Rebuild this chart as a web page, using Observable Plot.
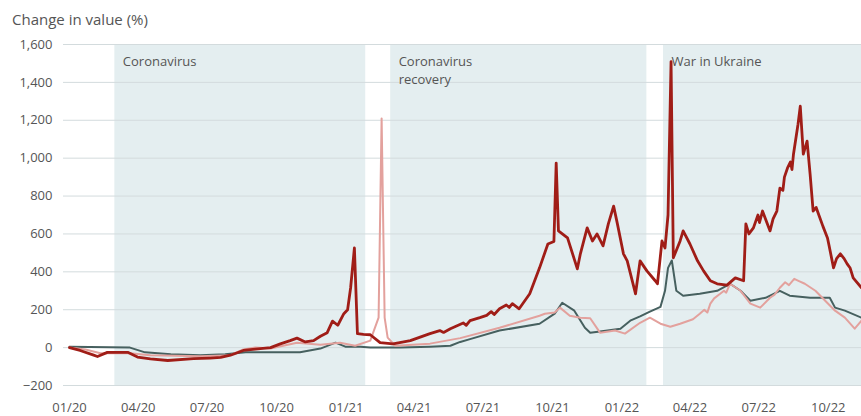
<!DOCTYPE html>
<html><head><meta charset="utf-8">
<script src="https://cdn.jsdelivr.net/npm/d3@7"></script>
<script src="https://cdn.jsdelivr.net/npm/@observablehq/plot@0.6"></script>
<style>
body{margin:0;background:#fff;font-family:"Open Sans",sans-serif}
#title{height:28px;box-sizing:border-box;padding:11px 0 0 12px;font-size:15px;line-height:16px;color:#555}
</style>
</head><body>
<div id="title">Change in value (%)</div>
<div id="chart"></div>
<script>
// Shaded periods
const regionLabels = ["Coronavirus", "Coronavirus\nrecovery", "War in Ukraine"];
const regionStarts = ["2020-03-01", "2021-03-01", "2022-02-25"];
const regionEnds   = ["2021-01-27", "2022-02-03", "2022-11-14"];

// Axis ticks
const yTicks = [-200, 0, 200, 400, 600, 800, 1000, 1200, 1400, 1600];
const xTickDates = ["2020-01-01","2020-04-01","2020-07-01","2020-10-01","2021-01-01","2021-04-01","2021-07-01","2021-10-01","2022-01-01","2022-04-01","2022-07-01","2022-10-01"];
const xDomain = ["2020-01-01", "2022-11-14"];

// Series (date, % change)
const series1 = [ // dark red
["2020-01-01",0],["2020-01-15",-15],["2020-02-02",-40],["2020-02-07",-47],["2020-02-20",-25],["2020-03-04",-25],["2020-03-18",-25],["2020-03-31",-50],["2020-04-17",-60],["2020-05-10",-68],["2020-06-13",-58],["2020-07-05",-55],["2020-07-19",-52],["2020-08-01",-40],["2020-08-18",-15],["2020-09-03",-8],["2020-09-23",0],["2020-10-06",20],["2020-10-19",37],["2020-10-28",50],["2020-11-08",30],["2020-11-19",37],["2020-11-28",60],["2020-12-07",79],["2020-12-14",140],["2020-12-21",118],["2020-12-29",179],["2021-01-03",200],["2021-01-07",316],["2021-01-12",526],["2021-01-16",74],["2021-01-24",70],["2021-02-02",68],["2021-02-15",26],["2021-03-04",20],["2021-03-27",37],["2021-04-22",74],["2021-05-05",90],["2021-05-10",80],["2021-05-19",100],["2021-06-05",130],["2021-06-09",118],["2021-06-14",142],["2021-06-27",158],["2021-07-06",170],["2021-07-12",190],["2021-07-16",175],["2021-07-23",205],["2021-08-01",225],["2021-08-05",212],["2021-08-09",232],["2021-08-18",205],["2021-09-01",284],["2021-09-14",421],["2021-09-25",547],["2021-10-03",560],["2021-10-06",974],["2021-10-09",616],["2021-10-21",579],["2021-11-03",416],["2021-11-07",495],["2021-11-16",632],["2021-11-23",563],["2021-11-29",600],["2021-12-07",537],["2021-12-14",653],["2021-12-21",747],["2021-12-26",653],["2022-01-03",495],["2022-01-08",458],["2022-01-19",284],["2022-01-25",458],["2022-02-03",405],["2022-02-14",353],["2022-02-17",337],["2022-02-23",563],["2022-02-27",526],["2022-03-03",700],["2022-03-07",1510],["2022-03-10",474],["2022-03-19",563],["2022-03-23",616],["2022-04-01",547],["2022-04-11",458],["2022-04-19",405],["2022-04-28",353],["2022-05-07",337],["2022-05-20",330],["2022-05-31",368],["2022-06-11",353],["2022-06-14",653],["2022-06-18",600],["2022-06-24",632],["2022-06-30",700],["2022-07-02",660],["2022-07-06",721],["2022-07-16",616],["2022-07-20",680],["2022-07-25",721],["2022-07-29",842],["2022-08-02",830],["2022-08-04",900],["2022-08-08",947],["2022-08-12",980],["2022-08-14",940],["2022-08-16",1021],["2022-08-22",1179],["2022-08-25",1274],["2022-08-29",1021],["2022-09-03",1090],["2022-09-07",916],["2022-09-11",721],["2022-09-15",740],["2022-09-20",684],["2022-09-24",640],["2022-09-30",579],["2022-10-02",540],["2022-10-08",421],["2022-10-12",470],["2022-10-17",495],["2022-10-22",470],["2022-10-26",442],["2022-10-30",420],["2022-11-03",368],["2022-11-14",316]
];
const series2 = [ // slate
["2020-01-01",5],["2020-03-21",0],["2020-04-10",-25],["2020-05-14",-35],["2020-06-22",-40],["2020-07-25",-35],["2020-08-21",-25],["2020-10-10",-25],["2020-11-01",-25],["2020-11-28",-5],["2020-12-18",26],["2020-12-31",5],["2021-01-20",5],["2021-02-02",0],["2021-03-14",0],["2021-04-22",5],["2021-05-19",10],["2021-06-01",30],["2021-06-14",45],["2021-07-23",90],["2021-09-14",126],["2021-10-04",179],["2021-10-14",237],["2021-10-30",195],["2021-11-13",105],["2021-11-20",79],["2021-12-03",85],["2021-12-30",100],["2022-01-12",142],["2022-01-25",165],["2022-02-07",190],["2022-02-21",215],["2022-02-27",300],["2022-03-03",421],["2022-03-08",460],["2022-03-14",300],["2022-03-23",274],["2022-04-14",284],["2022-05-07",300],["2022-05-24",337],["2022-06-07",300],["2022-06-20",247],["2022-07-10",263],["2022-07-29",300],["2022-08-11",274],["2022-09-07",263],["2022-10-03",263],["2022-10-10",211],["2022-10-23",195],["2022-11-14",158]
];
const series3 = [ // light pink
["2020-01-01",0],["2020-01-22",-10],["2020-02-11",-30],["2020-03-21",-30],["2020-04-17",-40],["2020-06-22",-45],["2020-08-01",-40],["2020-08-18",-10],["2020-09-03",0],["2020-09-23",-5],["2020-10-28",26],["2020-11-28",15],["2020-12-24",26],["2021-01-13",10],["2021-02-02",37],["2021-02-13",158],["2021-02-17",1210],["2021-02-21",158],["2021-02-25",53],["2021-03-07",10],["2021-04-22",21],["2021-06-01",50],["2021-07-23",105],["2021-09-14",168],["2021-09-21",179],["2021-10-04",185],["2021-10-11",211],["2021-10-24",168],["2021-11-07",158],["2021-11-20",155],["2021-12-03",79],["2021-12-23",90],["2022-01-05",74],["2022-01-25",131],["2022-02-07",158],["2022-02-21",126],["2022-03-06",110],["2022-03-19",126],["2022-04-05",150],["2022-04-14",179],["2022-04-20",200],["2022-04-24",185],["2022-04-28",232],["2022-05-03",260],["2022-05-11",284],["2022-05-16",300],["2022-05-19",290],["2022-05-24",337],["2022-06-07",300],["2022-06-20",232],["2022-07-03",211],["2022-07-16",263],["2022-07-22",280],["2022-07-29",316],["2022-08-05",345],["2022-08-10",330],["2022-08-17",363],["2022-08-24",350],["2022-08-31",337],["2022-09-14",300],["2022-09-27",247],["2022-10-10",195],["2022-10-23",158],["2022-11-05",100],["2022-11-14",142]
];

const parse = d3.utcParse("%Y-%m-%d");
const toRows = s => s.map(([d, v]) => ({date: parse(d), value: v}));
const regions = regionLabels.map((label, i) => ({label, start: parse(regionStarts[i]), end: parse(regionEnds[i])}));

const chart = Plot.plot({
  width: 861, height: 388,
  marginLeft: 63, marginRight: 0, marginTop: 16, marginBottom: 31,
  insetLeft: 6,
  x: {type: "utc", domain: xDomain.map(parse)},
  y: {domain: [-200, 1600]},
  style: {fontFamily: "Open Sans, sans-serif", fontSize: "13px", color: "#555", background: "#fff", overflow: "visible"},
  marks: [
    Plot.rect(regions, {x1: "start", x2: "end", fill: "#e4eef0"}),
    Plot.gridY(yTicks, {stroke: "#d3dbdd", strokeOpacity: 1, strokeWidth: 1}),
    Plot.axisY(yTicks, {tickSize: 0, tickPadding: 11, tickFormat: d3.format(","), label: null}),
    Plot.axisX(xTickDates.map(parse), {tickSize: 0, tickPadding: 17, tickFormat: d3.utcFormat("%m/%y"), label: null}),
    Plot.lineY(toRows(series2), {x: "date", y: "value", stroke: "#46605f", strokeWidth: 2, strokeLinejoin: "round"}),
    Plot.lineY(toRows(series3), {x: "date", y: "value", stroke: "#e3a19d", strokeWidth: 2, strokeLinejoin: "round"}),
    Plot.lineY(toRows(series1), {x: "date", y: "value", stroke: "#a01d17", strokeWidth: 2.8, strokeLinejoin: "round"}),
    Plot.text(regions, {x: "start", text: "label", frameAnchor: "top", dx: 8, dy: 9, lineAnchor: "top", textAnchor: "start", fill: "#555", fontSize: 13, lineHeight: 1.38})
  ]
});
document.getElementById("chart").append(chart);
</script>
</body></html>
